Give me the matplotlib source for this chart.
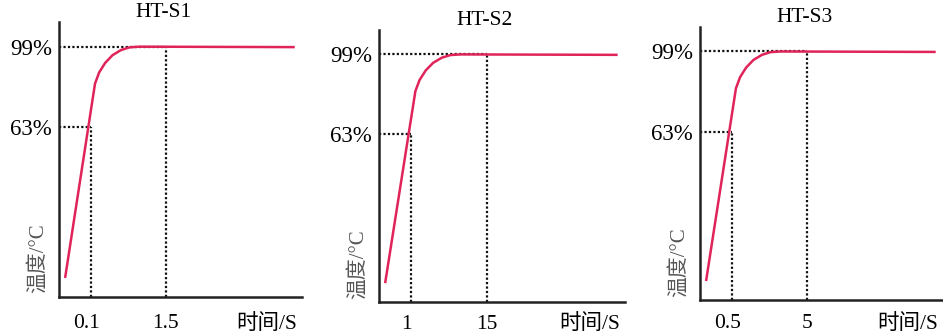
import matplotlib
matplotlib.use("Agg")
import matplotlib.pyplot as plt

plt.rcParams['font.family'] = ['Liberation Serif', 'Noto Sans CJK SC']

# schematic response curve (time in axis fraction, temperature in %)
curve_t = [0.025, 0.148, 0.165, 0.19, 0.22, 0.255, 0.29, 0.33, 0.97]
curve_temp = [-4, 82.5, 87.5, 91.8, 95.2, 97.5, 98.7, 99, 98.8]

# dashed guide positions (same place on every panel)
t63 = 0.132
t99 = 0.44
levels = [63, 99]

titles = ["HT-S1", "HT-S2", "HT-S3"]
t63_labels = ["0.1", "1", "0.5"]
t99_labels = ["1.5", "15", "5"]
xlabel_text = "时间/S"
ylabel_text = "温度/°C"

# axes boxes in figure fraction
boxes = [
    [0.0626, 0.1134, 0.2577, 0.821],
    [0.4019, 0.0985, 0.2609, 0.812],
    [0.7423, 0.1045, 0.2577, 0.815],
]
xpads = [12, 9, 10]

red = '#e0245a'
fig = plt.figure(figsize=(9.43, 3.35), dpi=100)

for i in range(3):
    ax = fig.add_axes(boxes[i])
    ax.set_xlim(0, 1)
    ax.set_ylim(-12.5, 110)

    # guides
    ax.plot([0, t63], [63, 63], color='#111111', lw=1.6, ls=(0, (1, 1)))
    ax.plot([t63, t63], [-12.5, 63], color='#111111', lw=1.6, ls=(0, (1, 1)))
    ax.plot([0, t99], [99, 99], color='#111111', lw=1.6, ls=(0, (1, 1)))
    ax.plot([t99, t99], [-12.5, 99], color='#111111', lw=1.6, ls=(0, (1, 1)))

    # response curve
    ax.plot(curve_t, curve_temp, color=red, lw=1.8, solid_capstyle='butt')

    for side in ['top', 'right']:
        ax.spines[side].set_visible(False)
    for side in ['left', 'bottom']:
        ax.spines[side].set_linewidth(1.8)
        ax.spines[side].set_color('#222222')

    ax.set_yticks(levels)
    ax.set_yticklabels(["63%", "99%"], fontsize=16.5)
    ax.set_xticks([t63 - 0.02, t99, 0.855])
    ax.set_xticklabels([t63_labels[i], t99_labels[i], xlabel_text], fontsize=15.5)
    ax.tick_params(axis='y', length=0, pad=5)
    ax.tick_params(axis='x', length=0, pad=xpads[i])

    ax.set_title(titles[i], x=0.43, pad=1, fontsize=15.5)
    ax.text(-0.085, 0.14, ylabel_text, transform=ax.transAxes, rotation=90,
            ha='center', va='center', fontsize=15, color='#555555')

fig.savefig("out.png", dpi=100)
